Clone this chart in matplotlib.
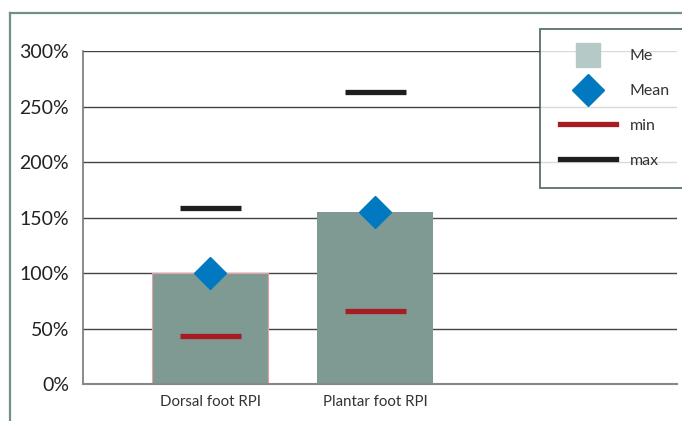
import matplotlib
matplotlib.use("Agg")
import matplotlib.pyplot as plt
from matplotlib.lines import Line2D
from matplotlib.ticker import FuncFormatter

plt.rcParams['font.family'] = ['Lato', 'DejaVu Sans']

# Data (percent)
categories = ["Dorsal foot RPI", "Plantar foot RPI"]
median_vals = [100, 155]
mean_vals = [100, 155]
min_vals = [43, 66]
max_vals = [159, 263]
y_ticks = [0, 50, 100, 150, 200, 250, 300]

bar_color = "#7f9a92"
me_color = "#b5cac6"
mean_color = "#0079c1"
min_color = "#a51c24"
max_color = "#1e1e1e"
frame_color = "#6f918a"

W, H = 682, 421
fig = plt.figure(figsize=(W / 100, H / 100), dpi=100)
fig.patch.set_facecolor("white")

# Outer frame (top and left edges)
fig.add_artist(Line2D([9.5 / W, 9.5 / W], [0, 1 - 13 / H], transform=fig.transFigure,
                      color=frame_color, lw=1.6))
fig.add_artist(Line2D([9.5 / W, 1.0], [1 - 13 / H, 1 - 13 / H], transform=fig.transFigure,
                      color=frame_color, lw=1.6))

ax = fig.add_axes([83 / W, 1 - 384 / H, (677 - 83) / W, (384 - 51) / H])

x = list(range(len(categories)))
bars = ax.bar(x, median_vals, width=0.70, color=bar_color, zorder=2)
bars[0].set_edgecolor("#e8a0a8")
bars[0].set_linewidth(0.8)

half = 0.185
for i in x:
    ax.hlines(min_vals[i], i - half, i + half, color=min_color, lw=3.8, zorder=3)
    ax.hlines(max_vals[i], i - half, i + half, color=max_color, lw=3.8, zorder=3)
ax.plot(x, mean_vals, linestyle="none", marker="D", markersize=16,
        color=mean_color, zorder=4)

ax.set_ylim(0, 300)
ax.set_xlim(-0.77, 2.83)
ax.set_yticks(y_ticks)
ax.yaxis.set_major_formatter(FuncFormatter(lambda v, p: f"{int(v)}%"))
ax.set_xticks(x)
ax.set_xticklabels(categories, fontsize=10.8, color="#333333")
ax.tick_params(axis="y", length=0, pad=10, labelsize=14, labelcolor="#222222")
ax.tick_params(axis="x", length=0, pad=8)
ax.grid(axis="y", color="#444444", lw=1.0, zorder=1)
ax.set_axisbelow(True)
for s in ["top", "right"]:
    ax.spines[s].set_visible(False)
ax.spines["left"].set_color("#777777")
ax.spines["bottom"].set_color("#888888")
ax.spines["left"].set_linewidth(1.2)
ax.spines["bottom"].set_linewidth(1.5)

handles = [
    Line2D([], [], linestyle="none", marker="s", markersize=17, color=me_color),
    Line2D([], [], linestyle="none", marker="D", markersize=16, color=mean_color),
    Line2D([], [], color=min_color, lw=3.8),
    Line2D([], [], color=max_color, lw=3.8),
]
labels = ["Me", "Mean", "min", "max"]
leg = fig.legend(handles, labels, loc="upper left",
                 bbox_to_anchor=(540 / W, 1 - 29 / H),
                 frameon=True, fancybox=False, fontsize=11.5,
                 handlelength=3.5, handletextpad=0.85, labelspacing=1.3,
                 borderpad=1.25, borderaxespad=0)
leg.get_frame().set_edgecolor("#2f4f47")
leg.get_frame().set_linewidth(1.3)
for t in leg.get_texts():
    t.set_color("#333333")

fig.savefig("out.png", dpi=100, facecolor="white")
